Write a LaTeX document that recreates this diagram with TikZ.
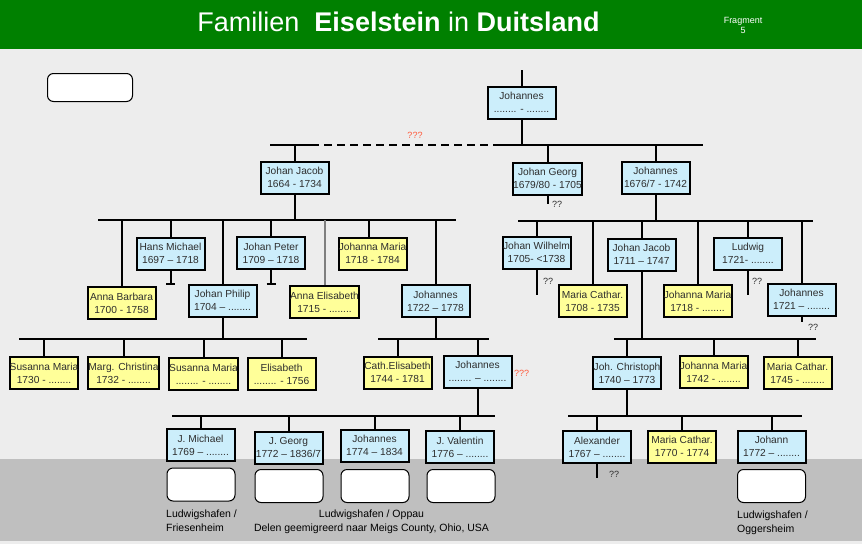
\documentclass[tikz,border=0pt]{standalone}
\usepackage{fontspec}
\setmainfont{Liberation Sans}
\usetikzlibrary{calc}
\definecolor{hdr}{HTML}{008000}
\definecolor{bgl}{HTML}{EDEDED}
\definecolor{bgd}{HTML}{BFBFBF}
\definecolor{mblue}{HTML}{CCEEFB}
\definecolor{fyel}{HTML}{FFFF99}
\definecolor{txt}{HTML}{2E2E2E}
\definecolor{qred}{HTML}{FF5A3C}
\definecolor{lgray}{HTML}{7F7F7F}
\begin{document}
\begin{tikzpicture}[x=1pt,y=-1pt,
 person/.style={draw=black,line width=2pt,minimum width=68pt,minimum height=32pt,inner sep=0pt,align=center,text=txt,font=\fontsize{10.2}{12.7}\selectfont},
 mbox/.style={person,fill=mblue},
 fembox/.style={person,fill=fyel},
 wbox/.style={draw=black,line width=1pt,fill=white,rounded corners=6pt,minimum width=68pt,minimum height=33pt,inner sep=0pt},
 conn/.style={line width=2pt},
 qq/.style={text=txt,font=\fontsize{9}{10}\selectfont,inner sep=0pt},
 qqq/.style={text=qred,font=\fontsize{9}{10}\selectfont,inner sep=0pt},
 placetxt/.style={text=black,font=\fontsize{10.5}{14}\selectfont,inner sep=0pt}
]
% background
\fill[bgl] (0,0) rectangle (862,544);
\fill[bgd] (0,459) rectangle (862,541);
\fill[hdr] (0,0) rectangle (862,48.5);
\useasboundingbox (0,0) rectangle (862,544);

% header
\node[anchor=base,text=white,inner sep=0pt,font=\fontsize{27}{30}\selectfont] (title) at (398.5,31) {Familien\ \ \textbf{Eiselstein} in \textbf{Duitsland}};
\node[anchor=base,text=white,inner sep=0pt,font=\fontsize{9}{10}\selectfont] (frag) at (743,23) {Fragment};
\node[anchor=base,text=white,inner sep=0pt,font=\fontsize{9}{10}\selectfont] (fragn) at (743,33) {5};

\node[wbox,minimum width=85pt,minimum height=28pt] (blank0) at (90,87.5) {};

% generation 0
\node[mbox] (root) at (521.5,102.5) {Johannes\\........ - ........};
% generation 1
\node[mbox] (jj64) at (294.5,177.5) {Johan Jacob\\1664 - 1734};
\node[mbox] (jg79) at (547.5,178.5) {Johan Georg\\1679/80 - 1705};
\node[mbox] (jo76) at (655.5,177.5) {Johannes\\1676/7 - 1742};
% generation 2 left
\node[fembox] (ab) at (121.5,303) {Anna Barbara\\1700 - 1758};
\node[mbox] (hm) at (170.5,253.5) {Hans Michael\\1697 -- 1718};
\node[mbox] (jph) at (222.5,300.5) {Johan Philip\\1704 -- ........};
\node[mbox] (jpe) at (271,253) {Johan Peter\\1709 -- 1718};
\node[fembox] (ae) at (324.5,302) {Anna Elisabeth\\1715 - ........};
\node[fembox] (jm18) at (372.5,253.5) {Johanna Maria\\1718 - 1784};
\node[mbox] (jo22) at (435.5,301) {Johannes\\1722 -- 1778};
% generation 2 right
\node[mbox] (jw) at (536.5,252.5) {Johan Wilhelm\\1705- <1738};
\node[fembox] (mc08) at (592.5,301) {Maria Cathar.\\1708 - 1735};
\node[mbox] (jj11) at (641.5,254.5) {Johan Jacob\\1711 -- 1747};
\node[fembox] (jm18b) at (697.5,301) {Johanna Maria\\1718 - ........};
\node[mbox] (lud) at (748,253.5) {Ludwig\\1721- ........};
\node[mbox] (jo21) at (801.5,299.5) {Johannes\\1721 -- ........};
% generation 3
\node[fembox] (sm30) at (44,373) {Susanna Maria\\1730 - ........};
\node[fembox] (mc32) at (123.5,373) {Marg. Christina\\1732 - ........};
\node[fembox] (smx) at (203.5,374) {Susanna Maria\\........ - ........};
\node[fembox] (el56) at (281.5,374) {Elisabeth\\........ - 1756};
\node[fembox] (ce44) at (397.5,372.5) {Cath.Elisabeth\\1744 - 1781};
\node[mbox] (jox) at (477.5,371.5) {Johannes\\........ -- ........};
\node[mbox] (jc40) at (627,373) {Joh. Christoph\\1740 -- 1773};
\node[fembox] (jm42) at (713.5,372) {Johanna Maria\\1742 - ........};
\node[fembox] (mc45) at (797.5,373) {Maria Cathar.\\1745 - ........};
% generation 4
\node[mbox] (jmi) at (200.5,445) {J. Michael\\1769 -- ........};
\node[mbox] (jge) at (288.5,447.5) {J. Georg\\1772 -- 1836/7};
\node[mbox] (jo74) at (374.5,445.5) {Johannes\\1774 -- 1834};
\node[mbox] (jva) at (460,447) {J. Valentin\\1776 -- ........};
\node[mbox] (alx) at (597,447) {Alexander\\1767 -- ........};
\node[fembox] (mc70) at (682,446.5) {Maria Cathar.\\1770 - 1774};
\node[mbox] (jn72) at (771.5,446.5) {Johann\\1772 -- ........};

% white boxes
\node[wbox] (w1) at (201,484.5) {};
\node[wbox] (w2) at (289,486) {};
\node[wbox] (w3) at (375,486) {};
\node[wbox] (w4) at (461,486) {};
\node[wbox] (w5) at (771.5,486) {};

% place labels
\node[placetxt,anchor=base west] (p1a) at (166,517.5) {Ludwigshafen /};
\node[placetxt,anchor=base west] (p1b) at (166,531.5) {Friesenheim};
\node[placetxt,anchor=base] (p2a) at (371.5,517.5) {Ludwigshafen / Oppau};
\node[placetxt,anchor=base] (p2b) at (371.5,531.5) {Delen geemigreerd naar Meigs County, Ohio, USA};
\node[placetxt,anchor=base west] (p3a) at (737,518.5) {Ludwigshafen /};
\node[placetxt,anchor=base west] (p3b) at (737,532) {Oggersheim};

% bars
\coordinate (b0L) at (270,145); \coordinate (b0a) at (311,145);
\coordinate (b0b) at (493,145); \coordinate (b0R) at (703,145);
\coordinate (b1L) at (98,220);  \coordinate (b1R) at (456,220);
\coordinate (b2L) at (19,339);  \coordinate (b2R) at (307,339);
\coordinate (b3L) at (378,339); \coordinate (b3R) at (489,339);
\coordinate (b4L) at (172,416); \coordinate (b4R) at (495,416);
\coordinate (b5L) at (518,221); \coordinate (b5R) at (813,221);
\coordinate (b6L) at (614,339); \coordinate (b6R) at (816,339);
\coordinate (b7L) at (568,416); \coordinate (b7R) at (802,416);
\coordinate (rtop) at (521.5,70);

\draw[conn] (b0L) -- (b0a);
\draw[conn,dash pattern=on 8pt off 5pt] (b0a) -- (b0b);
\draw[conn] (b0b) -- (b0R);
\foreach \a/\b in {b1L/b1R,b2L/b2R,b3L/b3R,b4L/b4R,b5L/b5R,b6L/b6R,b7L/b7R}
  \draw[conn] (\a) -- (\b);

% root
\draw[conn] (rtop) -- (root.north);
\draw[conn] (root.south) -- (root.south |- b0L);
% generation 1
\foreach \n in {jj64,jg79,jo76} \draw[conn] (\n.north) -- (\n.north |- b0L);
\draw[conn] (jj64.south) -- (jj64.south |- b1L);
\draw[conn] (jo76.south) -- (jo76.south |- b5L);
\draw[conn] (jg79.south) -- ++(0,8);
% generation 2 left
\foreach \n in {ab,hm,jph,jpe,jo22} \draw[conn] (\n.north) -- (\n.north |- b1L);
\draw[conn] ([xshift=-3.5pt]jm18.north) -- ([xshift=-3.5pt]jm18.north |- b1L);
\draw[conn,draw=lgray] (ae.north) -- (ae.north |- b1L);
\draw[conn] (hm.south) -- ++(0,13) coordinate (hmT);
\draw[conn] ([xshift=-4.5pt]hmT) -- ([xshift=4.5pt]hmT);
\draw[conn] (jpe.south) -- ++(0,14) coordinate (jpeT);
\draw[conn] ([xshift=-4.5pt]jpeT) -- ([xshift=4.5pt]jpeT);
\draw[conn] (jph.south) -- (jph.south |- b2L);
\draw[conn] (jo22.south) -- (jo22.south |- b3L);
% generation 2 right
\foreach \n in {jw,mc08,jj11,jm18b,lud,jo21} \draw[conn] (\n.north) -- (\n.north |- b5L);
\draw[conn] (jw.south) -- ++(0,25);
\draw[conn] (lud.south) -- ++(0,24);
\draw[conn] (jo21.south) -- ++(0,5);
\draw[conn] (jj11.south) -- (jj11.south |- b6L);
% generation 3
\foreach \n in {sm30,mc32,smx,el56} \draw[conn] (\n.north) -- (\n.north |- b2L);
\foreach \n in {ce44,jox} \draw[conn] (\n.north) -- (\n.north |- b3L);
\foreach \n in {jc40,jm42,mc45} \draw[conn] (\n.north) -- (\n.north |- b6L);
\draw[conn] (jox.south) -- (jox.south |- b4L);
\draw[conn] (jc40.south) -- (jc40.south |- b7L);
% generation 4
\foreach \n in {jmi,jge,jo74,jva} \draw[conn] (\n.north) -- (\n.north |- b4L);
\foreach \n in {alx,mc70,jn72} \draw[conn] (\n.north) -- (\n.north |- b7L);
\draw[conn] (alx.south) -- ++(0,14);

% question marks
\node[qqq] (q1) at (415,135) {???};
\node[qqq,anchor=west] (q2) at (514,373) {???};
\node[qq] (q3) at (557,204) {??};
\node[qq] (q4) at (548,281) {??};
\node[qq] (q5) at (757,281) {??};
\node[qq] (q6) at (813,327) {??};
\node[qq] (q7) at (614,474) {??};
\end{tikzpicture}
\end{document}
